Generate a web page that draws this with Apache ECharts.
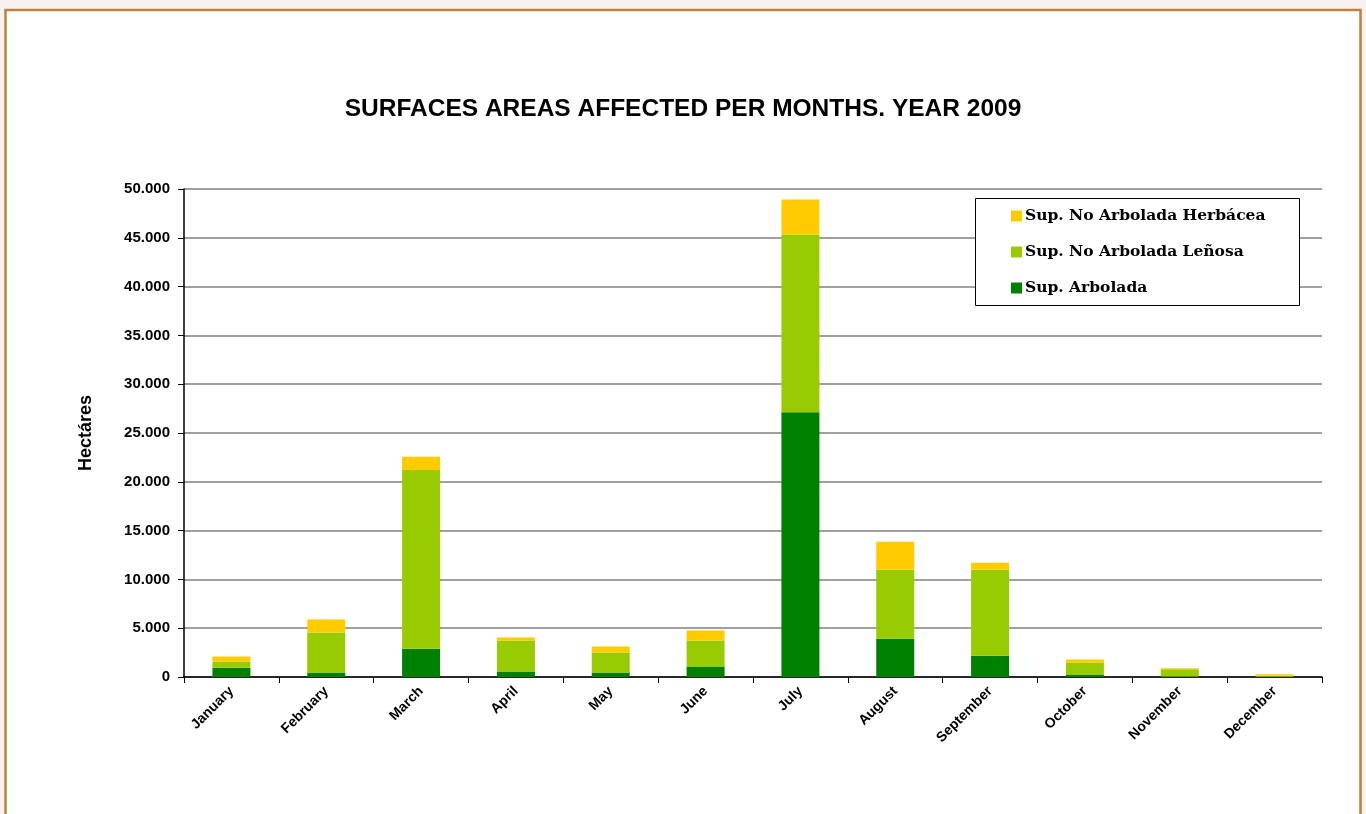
<!DOCTYPE html>
<html>
<head>
<meta charset="utf-8">
<script src="https://cdn.jsdelivr.net/npm/echarts@6/dist/echarts.min.js"></script>
<style>
  html, body { margin: 0; padding: 0; background: #f7f2ee; }
  #chart { width: 1366px; height: 814px; }
</style>
</head>
<body>
<div id="chart"></div>
<script>
// Monthly burnt surface, 2009 (hectares)
const months = ['January', 'February', 'March', 'April', 'May', 'June', 'July',
  'August', 'September', 'October', 'November', 'December'];
const arbolada = [950, 450, 2900, 560, 460, 1080, 27130, 3920, 2180, 250, 50, 20];
const lenosa = [600, 4100, 18300, 3180, 2050, 2660, 18200, 7070, 8810, 1230, 750, 100];
const herbacea = [550, 1330, 1360, 310, 610, 1020, 3590, 2870, 720, 310, 100, 150];
const seriesNames = ['Sup. Arbolada', 'Sup. No Arbolada Leñosa', 'Sup. No Arbolada Herbácea'];

const sans = "'Liberation Sans', Arial, sans-serif";

const chart = echarts.init(document.getElementById('chart'));

function thousands(v) {
  return String(v).replace(/\B(?=(\d{3})+(?!\d))/g, '.');
}

chart.setOption({
  animation: false,
  backgroundColor: '#f7f2ee',
  title: {
    text: 'SURFACES AREAS AFFECTED PER MONTHS. YEAR 2009',
    left: 'center',
    top: 92,
    textStyle: { fontFamily: sans, fontWeight: 'bold', fontSize: 24.5, color: '#000' }
  },
  graphic: [
    {
      type: 'rect', z: -10, silent: true,
      shape: { x: 5.5, y: 10, width: 1355, height: 820 },
      style: { fill: '#ffffff', stroke: '#c0803f', lineWidth: 2.5 }
    },
    {
      type: 'rect', z: 5, silent: true,
      shape: { x: 975.5, y: 198.5, width: 324, height: 107 },
      style: { fill: '#ffffff', stroke: '#000000', lineWidth: 1 }
    }
  ],
  legend: {
    data: [seriesNames[2], seriesNames[1], seriesNames[0]],
    orient: 'vertical',
    left: 1006,
    top: 203,
    itemWidth: 11,
    itemHeight: 11,
    itemGap: 20,
    z: 10,
    icon: 'rect',
    textStyle: { fontFamily: 'DejaVu Serif', fontWeight: 'bold', fontSize: 15.5, color: '#000', padding: [0, 0, 0, -2] }
  },
  grid: { left: 184, right: 44, top: 189, bottom: 137, containLabel: false },
  xAxis: {
    type: 'category',
    data: months,
    boundaryGap: true,
    axisLine: { lineStyle: { color: '#000', width: 1.5 } },
    axisTick: { show: true, length: 6, lineStyle: { color: '#000' } },
    axisLabel: {
      rotate: 45, margin: 12,
      fontFamily: sans, fontWeight: 'bold', fontSize: 14, color: '#000'
    }
  },
  yAxis: {
    type: 'value',
    min: 0, max: 50000, interval: 5000,
    name: 'Hectáres',
    nameLocation: 'middle',
    nameGap: 89,
    nameTextStyle: { fontFamily: sans, fontWeight: 'bold', fontSize: 18, color: '#000' },
    axisLine: { show: true, lineStyle: { color: '#000', width: 1.5 } },
    axisTick: { show: true, length: 6, lineStyle: { color: '#000' } },
    splitLine: { lineStyle: { color: '#808080', width: 1.5 } },
    axisLabel: {
      margin: 14,
      formatter: thousands,
      fontFamily: sans, fontWeight: 'bold', fontSize: 15, color: '#000'
    }
  },
  series: [
    { name: seriesNames[0], type: 'bar', stack: 'total', barWidth: 38, data: arbolada, itemStyle: { color: '#008000' } },
    { name: seriesNames[1], type: 'bar', stack: 'total', barWidth: 38, data: lenosa, itemStyle: { color: '#99cc00' } },
    { name: seriesNames[2], type: 'bar', stack: 'total', barWidth: 38, data: herbacea, itemStyle: { color: '#ffcc00' } }
  ]
});

// right-hand border of the plot area
const rightX = chart.convertToPixel({ gridIndex: 0 }, [11.5, 0])[0];
const topY = chart.convertToPixel({ yAxisIndex: 0 }, 50000);
const botY = chart.convertToPixel({ yAxisIndex: 0 }, 0);
chart.setOption({
  graphic: [
    {}, {},
    {
      type: 'line', silent: true, z: 3,
      shape: { x1: rightX, y1: topY, x2: rightX, y2: botY + 6 },
      style: { stroke: '#808080', lineWidth: 1.5 }
    }
  ]
});
</script>
</body>
</html>
